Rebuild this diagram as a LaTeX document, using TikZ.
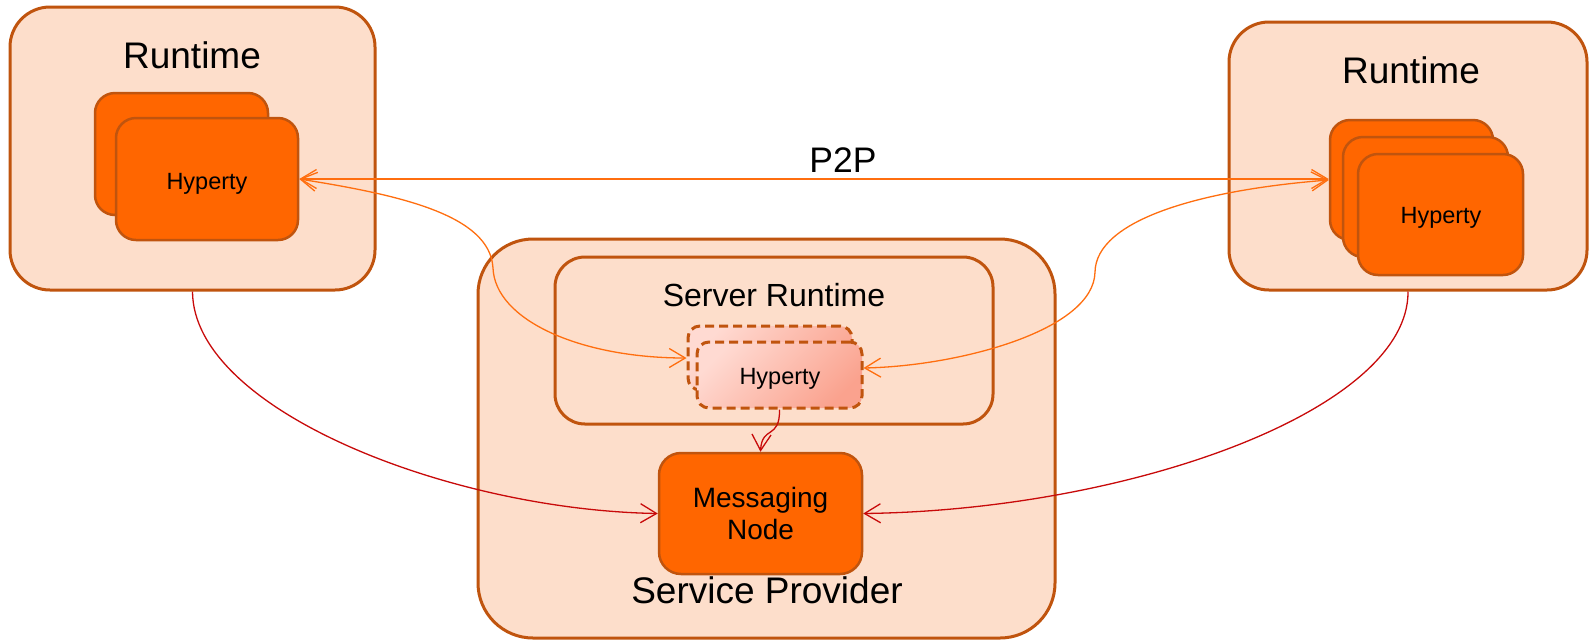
\documentclass[tikz,border=0pt]{standalone}
\usepackage{fontspec}
\setmainfont{Liberation Sans}
\usetikzlibrary{arrows.meta}
\definecolor{boxfill}{RGB}{253,222,203}
\definecolor{boxline}{RGB}{192,84,14}
\definecolor{hypfill}{RGB}{255,102,0}
\definecolor{p2pline}{RGB}{255,110,15}
\definecolor{msgline}{RGB}{200,10,10}
\definecolor{shadetop}{RGB}{255,218,210}
\definecolor{shadebot}{RGB}{250,162,142}
\tikzset{
  container/.style={draw=boxline, fill=boxfill, line width=3pt, rounded corners=#1, inner sep=0pt},
  hyp/.style={draw=boxline, fill=hypfill, line width=2.5pt, rounded corners=20pt, inner sep=0pt},
  dhyp/.style={draw=boxline, top color=shadetop, bottom color=shadebot, shading angle=45, line width=3pt, dash pattern=on 9pt off 5pt, rounded corners=12pt, inner sep=0pt},
  mnode/.style={draw=boxline, fill=hypfill, line width=2.5pt, rounded corners=22pt, inner sep=0pt, align=center, font=\fontsize{28}{32}\selectfont},
  lbl/.style={anchor=base, inner sep=0pt, font=\fontsize{#1}{#1}\selectfont},
  tip/.tip={Straight Barb[length=16pt,width=19pt]},
  p2p/.style={draw=p2pline, line width=1.3pt, tip-tip},
  msg/.style={draw=msgline, line width=1.3pt, -tip},
}
\begin{document}
\begin{tikzpicture}[x=1pt,y=-1pt]
\useasboundingbox (0,0) rectangle (1589,641);
\fill[white] (0,0) rectangle (1589,641);
% containers
\node[container=40pt, minimum width=365pt, minimum height=283pt] (lr) at (192.5,148.5) {};
\node[container=40pt, minimum width=358pt, minimum height=268pt] (rr) at (1408,156) {};
\node[container=55pt, minimum width=577pt, minimum height=399pt] (sp) at (766.5,438.5) {};
\node[container=30pt, minimum width=438pt, minimum height=167pt] (sr) at (774,340.5) {};
% hyperties
\node[hyp, minimum width=173pt, minimum height=122pt] (lhb) at (181.5,154) {};
\node[hyp, minimum width=182pt, minimum height=122pt] (lhf) at (207,179) {};
\node[hyp, minimum width=163pt, minimum height=120pt] (rhb1) at (1411.5,180) {};
\node[hyp, minimum width=165pt, minimum height=120pt] (rhb2) at (1425.5,197) {};
\node[hyp, minimum width=165pt, minimum height=121pt] (rhf) at (1440.5,214.5) {};
\node[dhyp, minimum width=164pt, minimum height=64pt] (dhb) at (770,358) {};
\node[dhyp, minimum width=165pt, minimum height=66pt] (dhf) at (779.5,375) {};
\node[mnode, minimum width=203pt, minimum height=121pt] (mn) at (760.5,513.5) {Messaging\\Node};
% labels
\node[lbl=37] (tlr) at (192,68) {Runtime};
\node[lbl=37] (trr) at (1411,83) {Runtime};
\node[lbl=35.5] (tp2p) at (843,172) {P2P};
\node[lbl=32] (tsr) at (774,306) {Server Runtime};
\node[lbl=37] (tsp) at (767,603) {Service Provider};
\node[lbl=23.5] (tlh) at (207,189) {Hyperty};
\node[lbl=23.5] (trh) at (1441,223) {Hyperty};
\node[lbl=23.5] (tdh) at (780,384) {Hyperty};
% connectors
\draw[p2p] (lhf.east) -- (lhf.east -| rhb1.west);
\draw[p2p] (lhf.east) .. controls (400,195) and (490,215) .. (493,268)
  .. controls (495,320) and (580,358) .. (dhb.west);
\draw[p2p] (rhb1.west) .. controls (1200,190) and (1096,220) .. (1095,272)
  .. controls (1094,330) and (960,366) .. ([yshift=7pt]dhf.east);
\draw[msg] (lr.south) .. controls (193,410) and (450,510) .. (mn.west);
\draw[msg] (rr.south) .. controls (1409,410) and (1130,510) .. (mn.east);
\draw[msg] (dhf.south) .. controls (780,440) and (762,425) .. (mn.north);
\end{tikzpicture}
\end{document}
